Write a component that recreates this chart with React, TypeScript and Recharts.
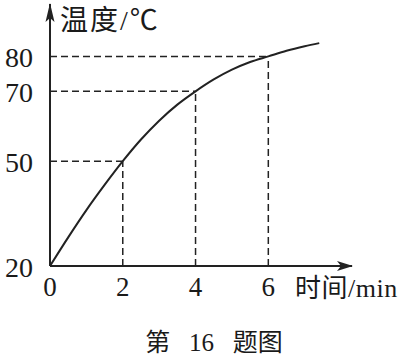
import {
  ComposedChart,
  Line,
  XAxis,
  YAxis,
  ReferenceLine,
  ReferenceDot,
} from "recharts";

const timeMin = [0, 0.5, 1, 1.5, 2, 2.5, 3, 3.5, 4, 4.5, 5, 5.5, 6, 6.5, 7, 7.4];
const tempC = [20, 28.2, 36, 43.2, 50, 56.2, 61.6, 66.2, 70, 73.4, 76.2, 78.4, 80, 81.6, 82.9, 83.8];

const xTicks = [0, 2, 4, 6];
const yTicks = [20, 50, 70, 80];

const markedTimes = [2, 4, 6];
const markedTemps = [50, 70, 80];

const X_MAX = 8.3;
const Y_MIN = 20;
const Y_MAX = 95;

const INK = "#222";
const SERIF = "'Liberation Serif', 'Noto Sans CJK SC', serif";

const data = timeMin.map((t, i) => ({ t, temp: tempC[i] }));

const XTick = ({ x, y, payload }: any) => (
  <text x={x} y={y + 30} textAnchor="middle" fontSize={27} fontFamily={SERIF} fill="#1a1a1a">
    {payload.value}
  </text>
);

const YTick = ({ x, y, payload }: any) => (
  <text x={x - 17} y={y + 11} textAnchor="end" fontSize={28} fontFamily={SERIF} fill="#1a1a1a">
    {payload.value}
  </text>
);

const RightArrow = ({ cx, cy }: any) => (
  <polygon points={`${cx + 1},${cy} ${cx - 15},${cy - 5} ${cx - 11},${cy} ${cx - 15},${cy + 5}`} fill={INK} />
);

const UpArrow = ({ cx, cy }: any) => (
  <polygon points={`${cx},${cy - 1} ${cx - 4.5},${cy + 18} ${cx},${cy + 14} ${cx + 4.5},${cy + 18}`} fill={INK} />
);

const App = () => {
  return (
    <div style={{ position: "absolute", left: 0, top: 0, width: 420, height: 358, background: "#fff" }}>
      <ComposedChart
        width={420}
        height={358}
        data={data}
        margin={{ top: 4, right: 68, bottom: 62, left: 0 }}
      >
        <XAxis
          type="number"
          dataKey="t"
          domain={[0, X_MAX]}
          ticks={xTicks}
          tick={<XTick />}
          tickLine={false}
          tickSize={0}
          tickMargin={0}
          height={30}
          axisLine={{ stroke: INK, strokeWidth: 2 }}
        />
        <YAxis
          type="number"
          domain={[Y_MIN, Y_MAX]}
          ticks={yTicks}
          tick={<YTick />}
          tickLine={false}
          tickSize={0}
          tickMargin={0}
          width={50}
          axisLine={{ stroke: INK, strokeWidth: 2 }}
        />
        {markedTimes.map((t, i) => (
          <ReferenceLine
            key={`h-${t}`}
            segment={[{ x: 0, y: markedTemps[i] }, { x: t, y: markedTemps[i] }]}
            stroke={INK}
            strokeWidth={1.5}
            strokeDasharray="7 4"
          />
        ))}
        {markedTimes.map((t, i) => (
          <ReferenceLine
            key={`v-${t}`}
            segment={[{ x: t, y: Y_MIN }, { x: t, y: markedTemps[i] }]}
            stroke={INK}
            strokeWidth={1.5}
            strokeDasharray="7 4"
          />
        ))}
        <Line
          type="monotone"
          dataKey="temp"
          stroke={INK}
          strokeWidth={2}
          dot={false}
          isAnimationActive={false}
        />
        <ReferenceDot x={X_MAX} y={Y_MIN} ifOverflow="visible" shape={<RightArrow />} />
        <ReferenceDot x={0} y={Y_MAX} ifOverflow="visible" shape={<UpArrow />} />
        <text x={60} y={30} fontSize={28} letterSpacing={2} fontFamily={SERIF} fill="#1a1a1a">
          温度/℃
        </text>
        <text x={295} y={297} fontSize={26} letterSpacing={0.5} fontFamily={SERIF} fill="#1a1a1a">
          时间/min
        </text>
        <text x={214} y={351} fontSize={25} textAnchor="middle" fontFamily={SERIF} fill="#1a1a1a">
          {"第\u2002 16\u2002 题图"}
        </text>
      </ComposedChart>
    </div>
  );
};

export default App;
